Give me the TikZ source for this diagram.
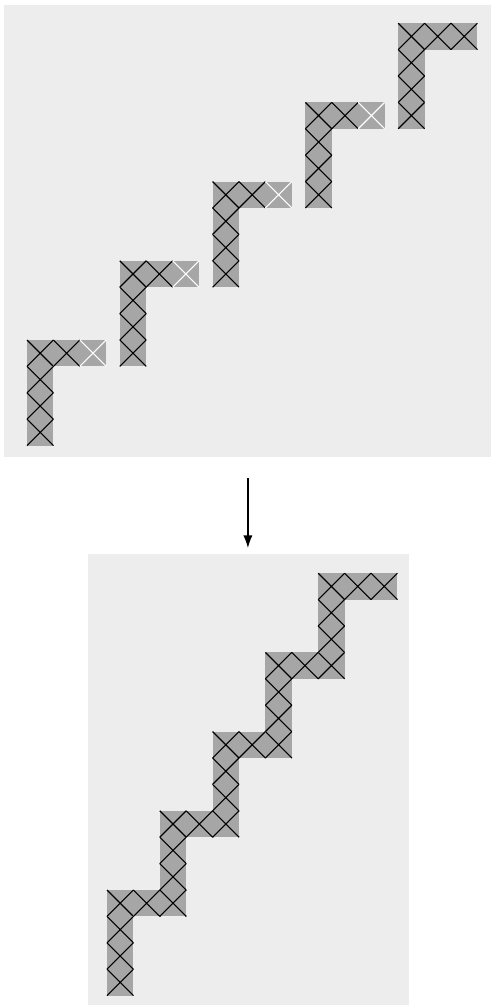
\documentclass[tikz,border=0pt]{standalone}
\usetikzlibrary{arrows.meta, positioning}
\definecolor{panelgray}{RGB}{237,237,237}
\definecolor{tilegray}{RGB}{166,166,166}
\tikzset{
  panel/.style={
    rectangle, fill=panelgray, draw=none, inner sep=0pt, anchor=north west,
  },
  arrow/.style={
    -{Latex[length=2.2mm, width=1.6mm]}, line width=0.6pt, draw=black,
  },
  pics/xcell/.style={code={
    \fill[tilegray] (0,0) rectangle (26.4,26.4);
    \draw[line width=0.55pt, #1] (0,0) -- (26.4,26.4) (0,26.4) -- (26.4,0);
  }},
  pics/lshape/.style={code={
    \foreach \k in {0,...,3}
      \pic at (0,\k*26.4) {xcell=black};
    \pic at (26.4,0) {xcell=black};
    \pic at (52.8,0) {xcell=#1};
  }},
}

\begin{document}
\begin{tikzpicture}[x=0.5pt, y=-0.5pt]

  \useasboundingbox (0,0) rectangle (491,1005);

  % panels
  \node[panel, minimum width=243.5pt, minimum height=226pt] (top) at (4,5) {};
  \node[panel, minimum width=160.5pt, minimum height=225.5pt] (bot) at (88,554) {};

  % loose pieces
  \foreach \i/\c in {0/white, 1/white, 2/white, 3/white, 4/black}
    \pic at (27+92.8*\i, 340-79.2*\i) {lshape=\c};

  % joined staircase
  \foreach \i in {0,...,4}
    \pic at (107+52.8*\i, 890-79.2*\i) {lshape=black};

  \draw[arrow, shorten <=10pt, shorten >=3pt] (top.south) -- (top.south |- bot.north);

\end{tikzpicture}
\end{document}
